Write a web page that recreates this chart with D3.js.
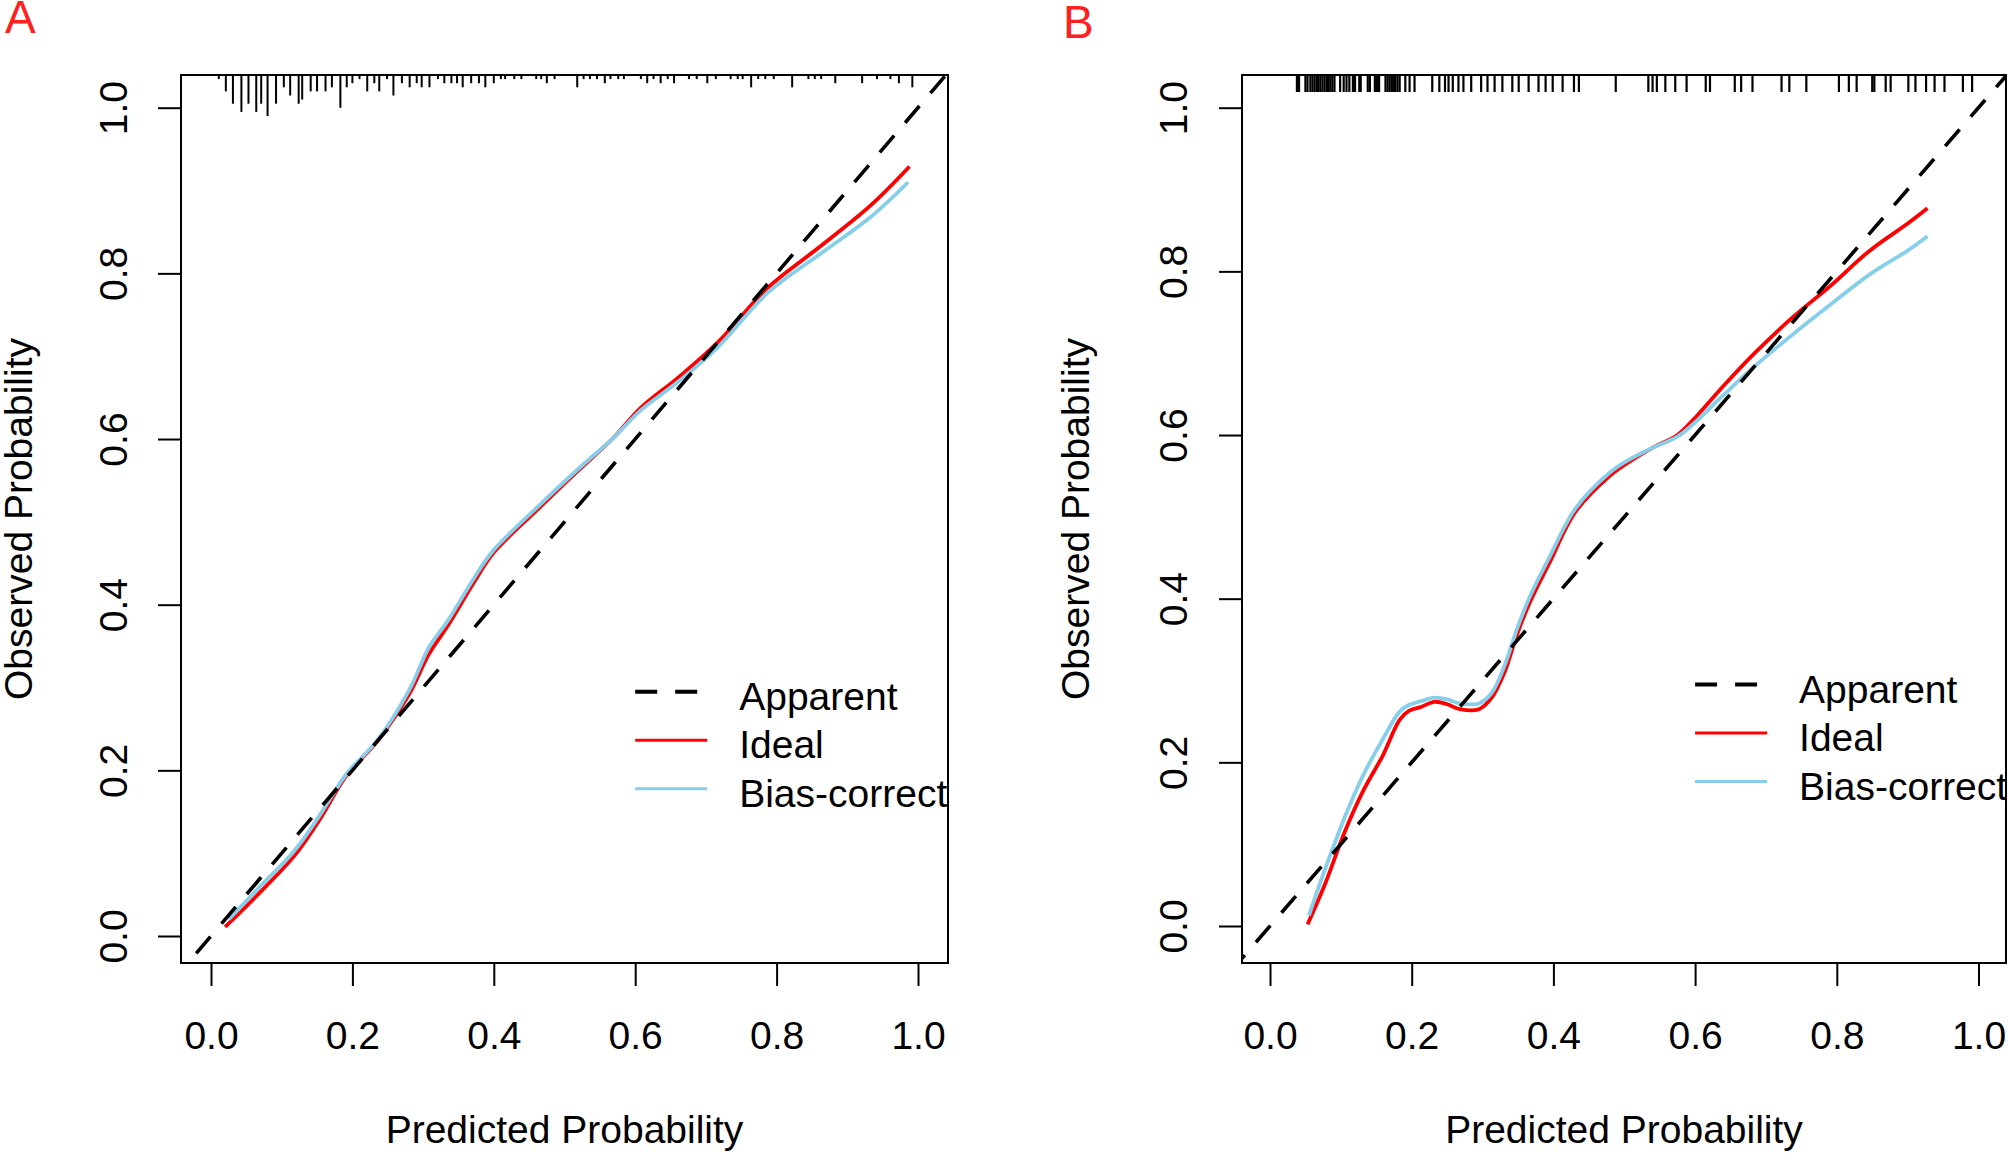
<!DOCTYPE html>
<html><head><meta charset="utf-8">
<script src="https://cdn.jsdelivr.net/npm/d3@7"></script>
<style>html,body{margin:0;padding:0;background:#fff;}svg{display:block;}</style>
</head><body>
<script>
// ---------- DATA ----------
const xTicks = [0, 0.2, 0.4, 0.6, 0.8, 1.0];
const yTicks = [0, 0.2, 0.4, 0.6, 0.8, 1.0];
const tickLabels = ["0.0", "0.2", "0.4", "0.6", "0.8", "1.0"];
const legendLabels = ["Apparent", "Ideal", "Bias-corrected"];
const panelLabels = ["A", "B"];
const xTitle = "Predicted Probability";
const yTitle = "Observed Probability";

// Panel A curves [predicted, observed]
const idealA = [[0.020,0.011],[0.064,0.048],[0.118,0.097],[0.154,0.141],[0.191,0.193],[0.236,0.236],[0.281,0.293],[0.308,0.340],[0.336,0.376],[0.372,0.427],[0.399,0.462],[0.462,0.515],[0.517,0.560],[0.571,0.603],[0.607,0.637],[0.662,0.675],[0.716,0.716],[0.788,0.783],[0.861,0.832],[0.933,0.882],[0.988,0.929]];
const biasA = [[0.025,0.020],[0.064,0.055],[0.118,0.103],[0.154,0.146],[0.191,0.195],[0.236,0.237],[0.281,0.298],[0.308,0.348],[0.336,0.382],[0.372,0.432],[0.399,0.465],[0.462,0.518],[0.517,0.562],[0.571,0.603],[0.607,0.634],[0.662,0.670],[0.716,0.710],[0.788,0.777],[0.861,0.823],[0.933,0.868],[0.986,0.910]];
// Panel B curves
const idealB = [[0.053,0.002],[0.078,0.052],[0.105,0.114],[0.132,0.166],[0.159,0.208],[0.183,0.252],[0.196,0.263],[0.214,0.268],[0.232,0.274],[0.250,0.271],[0.268,0.265],[0.295,0.265],[0.313,0.279],[0.331,0.310],[0.349,0.357],[0.367,0.396],[0.394,0.443],[0.431,0.506],[0.478,0.549],[0.503,0.565],[0.539,0.584],[0.575,0.600],[0.602,0.623],[0.639,0.659],[0.684,0.700],[0.738,0.744],[0.792,0.783],[0.846,0.825],[0.901,0.859],[0.928,0.877]];
const biasB = [[0.055,0.013],[0.078,0.070],[0.105,0.132],[0.132,0.185],[0.159,0.228],[0.183,0.262],[0.196,0.270],[0.214,0.275],[0.232,0.279],[0.250,0.277],[0.268,0.272],[0.295,0.272],[0.313,0.285],[0.331,0.318],[0.349,0.364],[0.367,0.403],[0.394,0.450],[0.431,0.510],[0.478,0.553],[0.503,0.568],[0.539,0.584],[0.575,0.598],[0.602,0.617],[0.639,0.648],[0.684,0.684],[0.738,0.723],[0.792,0.760],[0.846,0.796],[0.901,0.826],[0.928,0.843]];

// Rug A: histogram spikes (predicted value, relative frequency)
const rugA_x = [0.011,0.021,0.031,0.043,0.053,0.064,0.071,0.080,0.092,0.103,0.112,0.124,0.129,0.141,0.150,0.162,0.171,0.183,0.192,0.200,0.210,0.221,0.231,0.238,0.249,0.258,0.270,0.281,0.291,0.298,0.309,0.321,0.330,0.340,0.348,0.356,0.368,0.379,0.388,0.400,0.410,0.416,0.429,0.439,0.460,0.467,0.475,0.486,0.518,0.527,0.536,0.546,0.557,0.565,0.576,0.584,0.608,0.617,0.626,0.636,0.646,0.655,0.676,0.687,0.702,0.714,0.735,0.745,0.752,0.764,0.774,0.784,0.796,0.822,0.845,0.854,0.863,0.883,0.921,0.942,0.961,0.973,0.992];
const rugA_n = [1,4,7,9,7,9,7,10,7,3,5,7,6,4,4,4,3,8,3,2,1,4,2,4,1,5,2,3,2,3,3,1,2,2,2,3,2,2,3,2,1,1,1,1,1,1,2,1,3,1,1,1,2,1,1,1,1,2,1,2,1,2,1,1,2,1,1,1,1,3,1,1,1,3,1,1,1,2,2,1,1,2,3];
// Rug B: individual predicted values
const rugB_x = [0.038,0.041,0.050,0.053,0.057,0.060,0.063,0.066,0.068,0.071,0.074,0.077,0.080,0.082,0.085,0.088,0.091,0.099,0.104,0.108,0.112,0.117,0.120,0.126,0.128,0.138,0.141,0.148,0.151,0.154,0.163,0.166,0.169,0.172,0.175,0.177,0.180,0.183,0.191,0.197,0.204,0.229,0.239,0.247,0.252,0.258,0.266,0.273,0.284,0.298,0.307,0.317,0.328,0.342,0.351,0.365,0.379,0.389,0.399,0.413,0.429,0.436,0.488,0.534,0.540,0.546,0.558,0.572,0.588,0.615,0.621,0.656,0.665,0.681,0.722,0.733,0.757,0.803,0.817,0.828,0.850,0.853,0.869,0.876,0.901,0.911,0.926,0.938,0.952,0.978,0.991];

// ---------- LAYOUT ----------
const W = 2008, H = 1153;
const FONT = "'Liberation Sans', Arial, Helvetica, sans-serif";
const FS = 39;
const panels = [
  {label: panelLabels[0], lx: 5, lb: 33, box: {l: 181, r: 948, t: 75, b: 963}, xr: [211, 918], yr: [936, 107.7],
   ideal: idealA, bias: biasA, rug: "spike", titleX: 32, ytickOff: 54},
  {label: panelLabels[1], lx: 1063, lb: 38, box: {l: 1242, r: 2006, t: 75, b: 963}, xr: [1270, 1978.5], yr: [926, 107.7],
   ideal: idealB, bias: biasB, rug: "tick", titleX: 1089, ytickOff: 55}
];

const svg = d3.select("body").append("svg").attr("width", W).attr("height", H)
  .style("font-family", FONT);

panels.forEach((p, i) => {
  const x = d3.scaleLinear().domain([0, 1]).range(p.xr);
  const y = d3.scaleLinear().domain([0, 1]).range(p.yr);
  const g = svg.append("g");
  const clipId = "clip" + i;
  svg.append("clipPath").attr("id", clipId).append("rect")
    .attr("x", p.box.l).attr("y", p.box.t).attr("width", p.box.r - p.box.l).attr("height", p.box.b - p.box.t);
  const plot = g.append("g").attr("clip-path", `url(#${clipId})`);

  // rug
  if (p.rug === "spike") {
    const len = d3.scaleLinear().domain([0, 10]).range([0, 41]);
    plot.selectAll("line.rug").data(rugA_x).join("line")
      .attr("x1", d => x(d)).attr("x2", d => x(d))
      .attr("y1", p.box.t).attr("y2", (d, j) => p.box.t + len(rugA_n[j]))
      .attr("stroke", "#000").attr("stroke-width", 2);
  } else {
    plot.selectAll("line.rug").data(rugB_x).join("line")
      .attr("x1", d => x(d)).attr("x2", d => x(d))
      .attr("y1", p.box.t).attr("y2", p.box.t + 17)
      .attr("stroke", "#000").attr("stroke-width", 2.2);
  }

  const line = d3.line().x(d => x(d[0])).y(d => y(d[1])).curve(d3.curveCatmullRom.alpha(0.5));
  plot.append("path").datum(p.ideal).attr("d", line).attr("fill", "none")
    .attr("stroke", "#ff0000").attr("stroke-width", 3.8);
  plot.append("path").datum(p.bias).attr("d", line).attr("fill", "none")
    .attr("stroke", "#87ceeb").attr("stroke-width", 3.8);
  plot.append("line").attr("x1", x(-0.2)).attr("y1", y(-0.2)).attr("x2", x(1.2)).attr("y2", y(1.2))
    .attr("stroke", "#000").attr("stroke-width", 3.6).attr("stroke-dasharray", "22,17");

  // legend (clipped by plot region)
  const lx0 = x(0.6), ly0 = y(0.295), dy = 48.5;
  const styles = [
    {stroke: "#000", w: 4, dash: "22,18"},
    {stroke: "#ff0000", w: 3, dash: null},
    {stroke: "#87ceeb", w: 3, dash: null}
  ];
  legendLabels.forEach((lab, k) => {
    const yy = ly0 + k * dy;
    const s = styles[k];
    const ln = plot.append("line").attr("x1", lx0).attr("x2", lx0 + 72).attr("y1", yy).attr("y2", yy)
      .attr("stroke", s.stroke).attr("stroke-width", s.w);
    if (s.dash) ln.attr("stroke-dasharray", s.dash);
    plot.append("text").attr("x", lx0 + 104).attr("y", yy + 18).attr("font-size", FS)
      .attr("fill", "#000").text(lab);
  });

  // box
  g.append("rect").attr("x", p.box.l).attr("y", p.box.t)
    .attr("width", p.box.r - p.box.l).attr("height", p.box.b - p.box.t)
    .attr("fill", "none").attr("stroke", "#000").attr("stroke-width", 2);

  // x axis
  const xa = g.append("g").attr("transform", `translate(0,${p.box.b})`)
    .call(d3.axisBottom(x).tickValues(xTicks).tickSize(23).tickFormat((d, j) => tickLabels[j]));
  xa.select(".domain").remove();
  xa.selectAll("line").attr("stroke", "#000").attr("stroke-width", 2);
  xa.selectAll("text").attr("y", 86).attr("dy", 0).attr("font-size", FS)
    .attr("font-family", FONT).attr("fill", "#000");

  // y axis
  const ya = g.append("g").attr("transform", `translate(${p.box.l},0)`)
    .call(d3.axisLeft(y).tickValues(yTicks).tickSize(23).tickFormat((d, j) => tickLabels[j]));
  ya.select(".domain").remove();
  ya.selectAll("line").attr("stroke", "#000").attr("stroke-width", 2);
  ya.selectAll("text").attr("x", 0).attr("y", 0).attr("dy", 0)
    .attr("transform", `translate(${-p.ytickOff},0) rotate(-90)`)
    .attr("text-anchor", "middle").attr("font-size", FS)
    .attr("font-family", FONT).attr("fill", "#000");

  // titles
  g.append("text").attr("x", (p.box.l + p.box.r) / 2).attr("y", 1143)
    .attr("text-anchor", "middle").attr("font-size", FS).attr("fill", "#000").text(xTitle);
  g.append("text").attr("transform", `translate(${p.titleX},${(p.box.t + p.box.b) / 2}) rotate(-90)`)
    .attr("text-anchor", "middle").attr("font-size", FS).attr("fill", "#000").text(yTitle);

  // panel label
  g.append("text").attr("x", p.lx).attr("y", p.lb).attr("font-size", 46)
    .attr("fill", "#ff2020").text(p.label);
});
</script>
</body></html>
